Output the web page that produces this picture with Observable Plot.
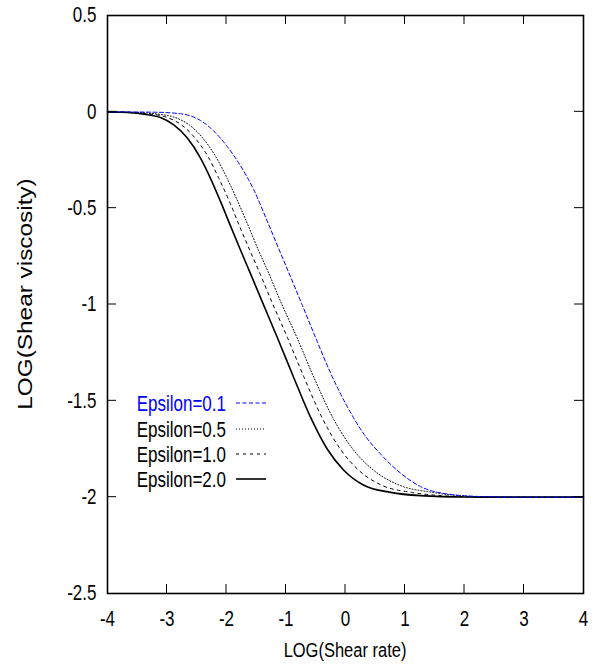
<!DOCTYPE html>
<html><head><meta charset="utf-8">
<script src="https://cdn.jsdelivr.net/npm/d3@7"></script>
<script src="https://cdn.jsdelivr.net/npm/@observablehq/plot@0.6"></script>
<style>body{margin:0;background:#fff}</style>
</head><body><div id="chart"></div>
<script>
const xTicks = [-4, -3, -2, -1, 0, 1, 2, 3, 4];
const yTicks = [-2.5, -2, -1.5, -1, -0.5, 0, 0.5];
const xLabel = "LOG(Shear rate)";
const yLabel = "LOG(Shear viscosity)";
const seriesNames = ["Epsilon=0.1", "Epsilon=0.5", "Epsilon=1.0", "Epsilon=2.0"];

const eps01X = [-4, -3.2, -2.773, -2.437, -2.213, -1.988, -1.765, -1.541, -1.316, -1.092, -0.924, -0.733, -0.476, -0.252, 0.029, 0.308, 0.588, 0.924, 1.26, 1.7, 2.3, 3, 4];
const eps01Y = [0, -0.002, -0.010, -0.045, -0.100, -0.180, -0.280, -0.405, -0.567, -0.733, -0.856, -0.998, -1.192, -1.355, -1.530, -1.672, -1.776, -1.875, -1.945, -1.983, -1.997, -2, -2];

const eps05X = [-4, -3.6, -3.205, -2.859, -2.626, -2.401, -2.167, -1.989, -1.811, -1.633, -1.465, -1.287, -1.09, -0.818, -0.529, -0.218, 0.122, 0.471, 0.908, 1.456, 1.91, 2.4, 3, 4];
const eps05Y = [0, -0.002, -0.010, -0.030, -0.068, -0.135, -0.240, -0.345, -0.465, -0.592, -0.717, -0.840, -0.985, -1.170, -1.380, -1.585, -1.750, -1.860, -1.938, -1.975, -1.992, -1.999, -2, -2];

const eps10X = [-4, -3.7, -3.325, -2.989, -2.756, -2.531, -2.297, -2.129, -1.951, -1.783, -1.61, -1.437, -1.24, -0.978, -0.694, -0.398, -0.088, 0.221, 0.608, 1.106, 1.61, 2.25, 3, 4];
const eps10Y = [0, -0.002, -0.010, -0.030, -0.068, -0.135, -0.240, -0.345, -0.465, -0.592, -0.717, -0.840, -0.985, -1.170, -1.380, -1.585, -1.750, -1.860, -1.938, -1.975, -1.992, -1.999, -2, -2];

const eps20X = [-4, -3.8, -3.445, -3.109, -2.886, -2.661, -2.437, -2.269, -2.101, -1.933, -1.765, -1.597, -1.40, -1.148, -0.869, -0.588, -0.308, -0.029, 0.308, 0.756, 1.26, 2.0, 3.0, 4.0];
const eps20Y = [0, -0.002, -0.010, -0.030, -0.068, -0.135, -0.240, -0.345, -0.465, -0.592, -0.717, -0.840, -0.985, -1.170, -1.380, -1.585, -1.750, -1.860, -1.938, -1.975, -1.992, -1.999, -2, -2];

const FONT = "'Liberation Sans', Arial, Helvetica, sans-serif";
const styles = [
  {stroke: "#0000ff", dash: "4,2.5", width: 1},
  {stroke: "#000", dash: "1,2", width: 1},
  {stroke: "#000", dash: "3,4", width: 1},
  {stroke: "#000", dash: null, width: 1.6}
];
const xs = [eps01X, eps05X, eps10X, eps20X];
const ys = [eps01Y, eps05Y, eps10Y, eps20Y];

const chart = Plot.plot({
  width: 594, height: 668,
  marginLeft: 107, marginRight: 11, marginTop: 15, marginBottom: 75,
  style: {fontFamily: FONT, background: "#fff", color: "#000", overflow: "visible"},
  x: {domain: [-4, 4]},
  y: {domain: [-2.5, 0.5]},
  marks: [
    Plot.axisX(xTicks, {anchor: "bottom", tickSize: 0, tickPadding: 17, tickFormat: d => String(d), fontSize: 17, label: null}),
    Plot.axisY(yTicks, {anchor: "left", tickSize: 0, tickPadding: 11, tickFormat: d => String(d), fontSize: 17, label: null}),
    ...[3, 2, 1, 0].map(i => Plot.line(ys[i], {
      x: xs[i], y: ys[i], curve: "monotone-x",
      stroke: styles[i].stroke, strokeWidth: styles[i].width,
      strokeDasharray: styles[i].dash
    })),
    Plot.frame({stroke: "#000", strokeWidth: 1.6})
  ]
});
document.getElementById("chart").appendChild(chart);

const SY = 1.25;
function stretch(el, sx, sy) {
  const t = el.getAttribute("transform");
  if (t) {
    el.setAttribute("transform", t + ` scale(${sx},${sy})`);
  } else {
    const x = +(el.getAttribute("x") || 0), y = +(el.getAttribute("y") || 0);
    el.setAttribute("x", 0); el.setAttribute("y", 0);
    el.setAttribute("transform", `translate(${x},${y}) scale(${sx},${sy})`);
  }
}
d3.select(chart).selectAll("g[aria-label$='tick label'] text").each(function() { stretch(this, 1, SY); });

const sx = chart.scale("x"), sy = chart.scale("y");
const svg = d3.select(chart);
const X0 = sx.apply(-4), X1 = sx.apply(4), Y0 = sy.apply(0.5), Y1 = sy.apply(-2.5);
const T = 9;
const tg = svg.append("g").attr("stroke", "#000").attr("stroke-width", 1);
xTicks.slice(1, -1).forEach(v => {
  const px = sx.apply(v);
  tg.append("line").attr("x1", px).attr("x2", px).attr("y1", Y1).attr("y2", Y1 - T);
  tg.append("line").attr("x1", px).attr("x2", px).attr("y1", Y0).attr("y2", Y0 + T);
});
yTicks.slice(1, -1).forEach(v => {
  const py = sy.apply(v);
  tg.append("line").attr("x1", X0).attr("x2", X0 + T).attr("y1", py).attr("y2", py);
  tg.append("line").attr("x1", X1).attr("x2", X1 - T).attr("y1", py).attr("y2", py);
});

// axis titles
svg.append("text").attr("transform", `translate(${(X0 + X1) / 2},657) scale(1,${SY})`).attr("text-anchor", "middle")
  .attr("font-family", FONT).attr("font-size", 16.5).text(xLabel);
svg.append("text").attr("transform", `translate(32,294) rotate(-90) scale(1.16,1)`).attr("text-anchor", "middle")
  .attr("font-family", FONT).attr("font-size", 21).text(yLabel);

// legend
const lg = svg.append("g");
const rowY = [403, 429, 454, 479];
seriesNames.forEach((name, i) => {
  lg.append("text").attr("transform", `translate(226,${rowY[i]}) scale(1,${SY})`).attr("dy", "0.36em").attr("text-anchor", "end")
    .attr("font-family", FONT).attr("font-size", 17).attr("fill", i === 0 ? "#0000ff" : "#000").text(name);
  lg.append("line").attr("x1", 236).attr("x2", 266).attr("y1", rowY[i]).attr("y2", rowY[i])
    .attr("stroke", styles[i].stroke).attr("stroke-width", styles[i].width)
    .attr("stroke-dasharray", styles[i].dash);
});
</script>
</body></html>
